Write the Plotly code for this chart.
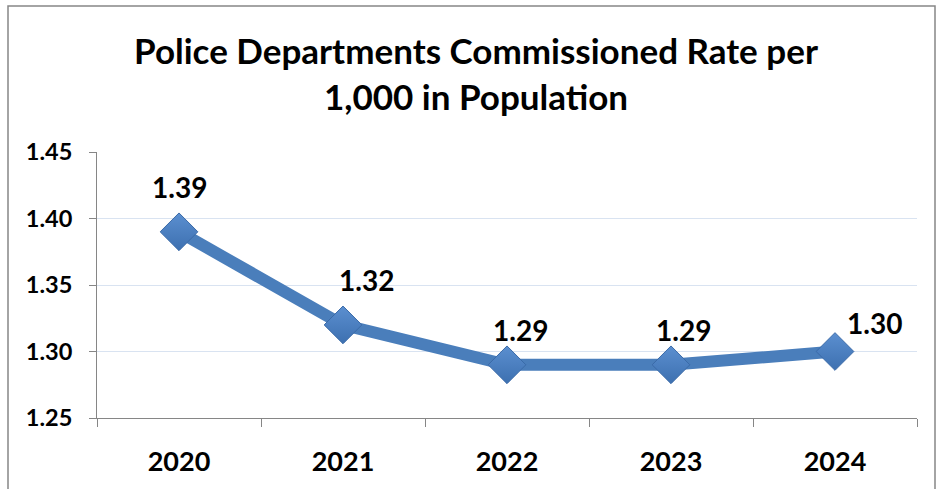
import plotly.graph_objects as go

years = ["2020", "2021", "2022", "2023", "2024"]
rates = [1.39, 1.32, 1.29, 1.29, 1.30]
y_ticks = [1.25, 1.30, 1.35, 1.40, 1.45]
title_text = "Police Departments Commissioned Rate per<br>1,000 in Population"

# label placement offsets in pixels (styling)
label_xshift = [0, 23, 13, 12, 39]
label_yshift = [45, 45, 35, 35, 29]

FONT = "Lato"
fig = go.Figure()
fig.add_trace(go.Scatter(
    x=years, y=rates,
    mode="lines+markers",
    line=dict(color="#4A7EBB", width=12),
    marker=dict(symbol="diamond", size=29, color="#5B8FD0",
                line=dict(color="#3A6AA8", width=1),
                gradient=dict(type="vertical", color="#3D70B0")),
    cliponaxis=False,
    hoverinfo="skip",
))

for i, v in enumerate(rates):
    fig.add_annotation(x=i, y=v, xref="x", yref="y", text=f"{v:.2f}", showarrow=False,
                       xshift=label_xshift[i], yshift=label_yshift[i], yanchor="middle",
                       font=dict(family=FONT, size=28, color="black", weight="bold"))

fig.update_layout(
    width=938, height=489,
    margin=dict(l=97, r=21, t=152, b=71),
    paper_bgcolor="white", plot_bgcolor="white",
    showlegend=False,
    title=dict(text=title_text, x=476 / 938, xref="container", xanchor="center",
               y=1 - 64 / 489, yref="container", yanchor="top",
               font=dict(family=FONT, size=35, color="black", weight="bold")),
    xaxis=dict(type="category", showgrid=False, ticks="outside", tickson="boundaries",
               ticklen=8, tickcolor="#868686", linecolor="#868686", linewidth=1,
               showline=True, range=[-0.5, 4.5], ticklabelstandoff=20,
               tickfont=dict(family=FONT, size=27, color="black", weight="bold")),
    yaxis=dict(range=[1.25, 1.45], tickvals=y_ticks, tickformat=".2f",
               showgrid=True, gridcolor="#D9E3F1", gridwidth=1,
               ticks="outside", ticklen=7, tickcolor="#868686",
               showline=True, linecolor="#868686", linewidth=1,
               zeroline=False, ticklabelstandoff=12,
               tickfont=dict(family=FONT, size=23.5, color="black", weight="bold")),
    shapes=[dict(type="rect", xref="paper", yref="paper",
                 x0=(8 - 97) / 820, x1=(935 - 97) / 820,
                 y0=-0.4, y1=(418 - 6) / 266,
                 line=dict(color="#868686", width=1.5), layer="below")],
)
fig.write_html("out.html", config={"displayModeBar": False},
               post_script="document.body.style.margin='0';")
